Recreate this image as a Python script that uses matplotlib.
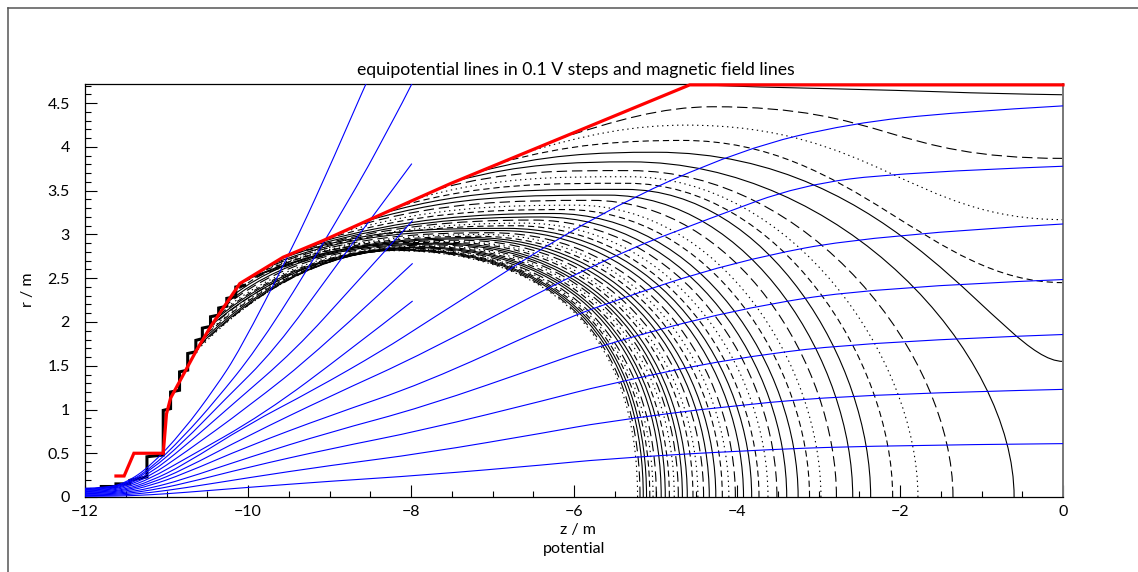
import numpy as np
import matplotlib
matplotlib.use("Agg")
import matplotlib.pyplot as plt
from matplotlib.path import Path
from matplotlib.patches import PathPatch
from matplotlib.lines import Line2D

plt.rcParams['font.family'] = ['Lato', 'DejaVu Sans']
plt.rcParams['lines.scale_dashes'] = False
plt.rcParams['axes.unicode_minus'] = True

# ---------------------------------------------------------------- data (z, r in m)
# vessel / electrode contour
wall_z = [-11.62, -11.52, -11.40, -11.04, -11.00, -10.95, -10.81, -10.63, -10.45,
          -10.10, -9.57, -9.08, -8.34, -7.52, -4.58, 0.0]
wall_r = [0.24, 0.24, 0.50, 0.50, 0.95, 1.13, 1.37, 1.68, 1.96,
          2.44, 2.74, 2.93, 3.24, 3.58, 4.71, 4.71]

# stepped grid boundary of the electrode
stair_z = [-11.80, -11.62, -11.62, -11.45, -11.45, -11.24, -11.24, -11.04, -11.04,
           -10.95, -10.95, -10.84, -10.84, -10.74, -10.74, -10.64, -10.64, -10.56,
           -10.56, -10.46, -10.46, -10.36, -10.36, -10.26, -10.26, -10.15, -10.15,
           -10.04]
stair_r = [0.12, 0.12, 0.15, 0.15, 0.19, 0.23, 0.46, 0.48, 0.99,
           1.01, 1.20, 1.22, 1.43, 1.45, 1.64, 1.66, 1.79, 1.81,
           1.93, 1.95, 2.06, 2.08, 2.16, 2.18, 2.27, 2.29, 2.40,
           2.42]

# equipotential lines that cross the axis r = 0 (inner -> outer)
axis_z0 = [-5.22, -5.19, -5.15, -5.11, -5.07, -5.03, -4.99, -4.93, -4.88, -4.83,
           -4.77, -4.72, -4.67, -4.61, -4.54, -4.48, -4.41, -4.34, -4.26, -4.18,
           -4.10, -4.02, -3.92, -3.82, -3.73, -3.62, -3.51, -3.39, -3.25, -3.11,
           -2.97, -2.78, -2.58, -2.36, -2.09, -1.78, -1.35, -0.60]
axis_peak_z = [-8.22, -8.19, -8.15, -8.11, -8.07, -8.03, -7.99, -7.93, -7.88, -7.83,
               -7.77, -7.72, -7.67, -7.61, -7.54, -7.48, -7.41, -7.34, -7.26, -7.18,
               -7.10, -7.02, -6.92, -6.82, -6.73, -6.62, -6.51, -6.39, -6.25, -6.11,
               -5.97, -5.78, -5.58, -5.36, -5.34, -5.32, -5.31, -5.30]
axis_peak_r = [2.815, 2.818, 2.822, 2.826, 2.83, 2.836, 2.842, 2.848, 2.855, 2.862,
               2.87, 2.88, 2.89, 2.90, 2.91, 2.92, 2.935, 2.95, 2.965, 2.98,
               3.00, 3.02, 3.045, 3.07, 3.10, 3.13, 3.165, 3.20, 3.24, 3.285,
               3.335, 3.39, 3.45, 3.515, 3.585, 3.66, 3.73, 3.83]
axis_wall_z = [-10.65, -10.62, -10.59, -10.56, -10.53, -10.50, -10.47, -10.44, -10.41, -10.38,
               -10.34, -10.30, -10.26, -10.22, -10.18, -10.13, -10.08, -10.03, -9.97, -9.91,
               -9.85, -9.78, -9.71, -9.63, -9.55, -9.46, -9.36, -9.25, -9.13, -9.00,
               -8.86, -8.70, -8.53, -8.35, -8.15, -7.93, -7.70, -7.45]
axis_wall_r = [1.65, 1.70, 1.74, 1.79, 1.84, 1.88, 1.93, 1.97, 2.02, 2.06,
               2.11, 2.17, 2.22, 2.28, 2.33, 2.40, 2.45, 2.48, 2.51, 2.55,
               2.58, 2.62, 2.66, 2.71, 2.75, 2.78, 2.82, 2.86, 2.91, 2.96,
               3.02, 3.09, 3.16, 3.24, 3.32, 3.41, 3.51, 3.61]

# equipotential lines leaving through the right edge z = 0 (outer -> inner)
edge_r0 = [3.87, 3.17, 2.45, 1.55]
edge_peak_z = [-4.30, -4.63, -4.66, -5.00]
edge_peak_r = [4.46, 4.25, 4.075, 3.94]
edge_wall_z = [-6.20, -6.58, -6.90, -7.19]
edge_wall_r = [4.09, 3.94, 3.82, 3.71]

# outermost line running just below the vessel top
top_z = [-4.58, -4.15, -3.96, -1.92, -0.90, 0.0]
top_r = [4.71, 4.703, 4.69, 4.646, 4.61, 4.597]

# magnetic field lines
field_z = [
    [-12, -11.75, -11.5, -11.2, -10.8, -10.4, -10.1, -9.48, -9.07, -8.56, -8.50],
    [-12, -11.75, -11.5, -11.2, -10.8, -10.4, -9.9, -9.3, -8.62, -8.42, -7.99, -7.95],
    [-12, -11.75, -11.5, -11.2, -10.8, -10.3, -9.67, -8.9, -7.99],
    [-12, -11.75, -11.5, -11.2, -10.8, -10.2, -9.42, -8.7, -7.98],
    [-12, -11.75, -11.5, -11.2, -10.8, -10.0, -9.12, -7.98],
    [-12, -11.75, -11.5, -11.2, -10.8, -9.8, -8.75, -7.98],
    [-12, -11.75, -11.5, -11.2, -10.8, -10.0, -9.2, -8.34, -7.84, -7.52, -5.68, -3.93, -2.61, -1.3, 0.0],
    [-12, -11.75, -11.5, -11.2, -10.8, -10.0, -9.0, -7.84, -5.68, -4.29, -3.23, -2.0, 0.0],
    [-12, -11.75, -11.5, -11.2, -10.8, -10.0, -9.0, -7.84, -6.29, -5.68, -4.05, -2.29, 0.0],
    [-12, -11.75, -11.5, -11.2, -10.8, -10.0, -9.0, -7.84, -6.29, -5.68, -4.05, -2.29, 0.0],
    [-12, -11.75, -11.5, -11.2, -10.8, -10.0, -9.0, -7.84, -6.29, -5.68, -4.05, -2.29, 0.0],
    [-12, -11.75, -11.5, -11.2, -10.8, -10.0, -9.0, -7.84, -6.29, -5.68, -4.05, -2.29, 0.0],
    [-12, -11.75, -11.5, -11.2, -10.8, -10.0, -9.0, -7.84, -6.29, -5.68, -4.05, -2.29, 0.0],
]
field_r = [
    [0.100, 0.105, 0.16, 0.35, 0.75, 1.25, 1.68, 2.80, 3.62, 4.71, 4.83],
    [0.092, 0.097, 0.15, 0.32, 0.68, 1.10, 1.68, 2.55, 3.62, 3.96, 4.71, 4.80],
    [0.085, 0.090, 0.14, 0.30, 0.62, 1.10, 1.68, 2.67, 3.81],
    [0.077, 0.083, 0.13, 0.27, 0.56, 1.05, 1.68, 2.42, 3.16],
    [0.069, 0.075, 0.12, 0.24, 0.49, 1.03, 1.68, 2.67],
    [0.062, 0.067, 0.105, 0.21, 0.42, 0.95, 1.68, 2.24],
    [0.054, 0.058, 0.09, 0.18, 0.36, 0.83, 1.22, 1.68, 1.98, 2.17, 3.26, 3.98, 4.27, 4.40, 4.47],
    [0.046, 0.050, 0.078, 0.155, 0.31, 0.70, 1.15, 1.64, 2.705, 3.20, 3.56, 3.71, 3.78],
    [0.038, 0.042, 0.065, 0.13, 0.26, 0.58, 0.93, 1.30, 1.96, 2.19, 2.69, 3.00, 3.12],
    [0.031, 0.033, 0.052, 0.10, 0.20, 0.45, 0.74, 1.03, 1.53, 1.73, 2.14, 2.40, 2.485],
    [0.023, 0.025, 0.039, 0.076, 0.15, 0.34, 0.55, 0.765, 1.12, 1.27, 1.59, 1.78, 1.857],
    [0.015, 0.017, 0.026, 0.05, 0.10, 0.22, 0.36, 0.50, 0.745, 0.85, 1.05, 1.18, 1.23],
    [0.008, 0.009, 0.013, 0.025, 0.05, 0.11, 0.18, 0.25, 0.373, 0.43, 0.525, 0.59, 0.61],
]

title = "equipotential lines in 0.1 V steps and magnetic field lines"
yticks = [0, 0.5, 1, 1.5, 2, 2.5, 3, 3.5, 4, 4.5]
ytick_labels = ["0", "0.5", "1", "1.5", "2", "2.5", "3", "3.5", "4", "4.5"]
xticks = [-12, -10, -8, -6, -4, -2, 0]
xtick_labels = ["\u221212", "\u221210", "\u22128", "\u22126", "\u22124", "\u22122", "0"]

# ---------------------------------------------------------------- styling
W, H = 1138, 572
fig = plt.figure(figsize=(W / 100, H / 100), dpi=100)
ax = fig.add_axes([85 / W, 1 - 497 / H, (1063 - 85) / W, (497 - 84) / H])
ax.set_xlim(-12, 0)
ax.set_ylim(0, 4.72)

styles = ['-', '-', (0, (7.5, 3.5)), (0, (1.0, 2.6)), (0, (4.5, 2.8))]
eq_lw = 0.8
eq_col = 'black'


def wall_dir(z):
    i = int(np.clip(np.searchsorted(wall_z, z) - 1, 0, len(wall_z) - 2))
    dz = wall_z[i + 1] - wall_z[i]
    dr = wall_r[i + 1] - wall_r[i]
    n = np.hypot(dz, dr)
    return dz / n, dr / n


def tail_to_wall(zp, rp, zw, rw):
    """Bezier handles from a crest down to the vessel wall, arriving along it."""
    cz, cr = (zp - zw), (rp - rw)
    cn = np.hypot(cz, cr)
    ux, uy = wall_dir(zw)
    tx, ty = 0.45 * cz / cn + 0.55 * ux, 0.45 * cr / cn + 0.55 * uy
    tn = np.hypot(tx, ty)
    e = 0.38 * cn
    return [(zp - 0.33 * cz, rp), (zw + e * tx / tn, rw + e * ty / tn), (zw, rw)]


def draw_curve(verts, style):
    codes = [Path.MOVETO] + [Path.CURVE4] * (len(verts) - 1)
    ax.add_patch(PathPatch(Path(verts, codes), fill=False, lw=eq_lw,
                           edgecolor=eq_col, linestyle=style, zorder=2,
                           capstyle='butt'))


def smooth_polyline(z, r):
    pts = list(zip(z, r))
    verts, codes = [pts[0]], [Path.MOVETO]
    for i in range(1, len(pts) - 2):
        mid = ((pts[i][0] + pts[i + 1][0]) / 2, (pts[i][1] + pts[i + 1][1]) / 2)
        verts += [pts[i], mid]
        codes += [Path.CURVE3, Path.CURVE3]
    verts += [pts[-2], pts[-1]]
    codes += [Path.CURVE3, Path.CURVE3]
    return Path(verts, codes)


# outermost line under the vessel top
ax.add_patch(PathPatch(smooth_polyline(top_z, top_r), fill=False, lw=eq_lw,
                       edgecolor=eq_col, zorder=2))

# lines ending on the right edge
edge_c1 = [0.50, 0.40, 0.35, 0.15]
edge_c2 = [0.50, 0.50, 0.45, 0.60]
for k in range(len(edge_r0)):
    zp, rp = edge_peak_z[k], edge_peak_r[k]
    r0 = edge_r0[k]
    verts = [(0.0, r0), (zp * edge_c1[k], r0), (zp * (1 - edge_c2[k]), rp), (zp, rp)]
    verts += tail_to_wall(zp, rp, edge_wall_z[k], edge_wall_r[k])
    draw_curve(verts, styles[(k + 2) % 5])

# lines crossing the axis
n_ax = len(axis_z0)
for i in range(n_ax):
    z0, zp, rp = axis_z0[i], axis_peak_z[i], axis_peak_r[i]
    a = z0 - zp
    frac = i / (n_ax - 1)
    c1 = 0.55 - 0.12 * frac
    c2 = 0.75 - 0.20 * frac
    verts = [(z0, 0.0), (z0, c1 * rp), (zp + c2 * a, rp), (zp, rp)]
    verts += tail_to_wall(zp, rp, axis_wall_z[i], axis_wall_r[i])
    k = 5 + (n_ax - 1 - i)
    draw_curve(verts, styles[(k + 1) % 5])

# electrode grid steps
ax.plot(stair_z, stair_r, color='black', lw=2.2, zorder=3, solid_joinstyle='miter')

# magnetic field lines
for fz, fr in zip(field_z, field_r):
    ax.add_patch(PathPatch(smooth_polyline(fz, fr), fill=False, lw=0.8,
                           edgecolor='#0000ff', zorder=4))

# vessel contour
ax.plot(wall_z, wall_r, color='#ff0000', lw=2.3, zorder=5, clip_on=False,
        solid_joinstyle='miter')

# axes cosmetics
for s in ['left', 'bottom', 'top']:
    ax.spines[s].set_color('black')
    ax.spines[s].set_linewidth(0.9)
ax.spines['right'].set_color('#777777')
ax.spines['right'].set_linewidth(1.4)
ax.set_xticks(xticks)
ax.set_xticklabels(xtick_labels)
ax.set_yticks(yticks)
ax.set_yticklabels(ytick_labels)
ax.set_xticks(np.arange(-12, 0.01, 0.5), minor=True)
ax.set_yticks(np.arange(0, 4.71, 0.1), minor=True)
ax.tick_params(which='both', direction='in', top=False, right=False,
               width=0.8, colors='black', labelsize=11.5)
ax.tick_params(which='major', length=8.5)
ax.tick_params(which='minor', length=4.3)
ax.tick_params(axis='y', pad=11)
ax.tick_params(axis='x', pad=6)

fig.text(576 / W, 1 - 70 / H, title, ha='center', va='center', fontsize=12.7)
fig.text(28 / W, 1 - 290 / H, "r / m", rotation=90, ha='center', va='center', fontsize=11.5)
fig.text(578 / W, 1 - 530 / H, "z / m", ha='center', va='center', fontsize=11.5)
fig.text(574 / W, 1 - 549 / H, "potential", ha='center', va='center', fontsize=11.5)

# canvas border
fig.add_artist(Line2D([7.5 / W, 7.5 / W], [0, 1 - 7.5 / H], color='#555555', lw=1.1))
fig.add_artist(Line2D([7.5 / W, 1], [1 - 7.5 / H, 1 - 7.5 / H], color='#555555', lw=1.1))

fig.savefig("out.png", dpi=100)
